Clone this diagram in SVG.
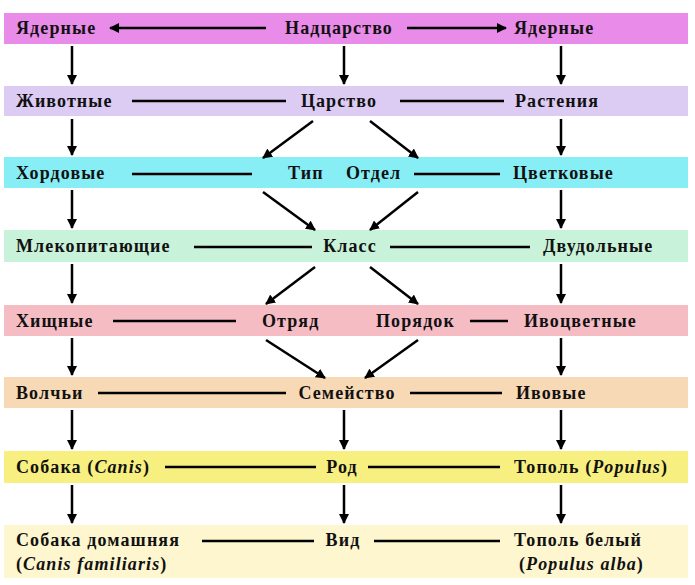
<svg xmlns="http://www.w3.org/2000/svg" width="695" height="585" viewBox="0 0 695 585">
<defs>
<marker id="a" viewBox="0 0 10 10" refX="9" refY="5" markerWidth="10" markerHeight="10" markerUnits="userSpaceOnUse" orient="auto"><path d="M0,0 L10,5 L0,10 z" fill="#000"/></marker>
<style>
text{font-family:"Liberation Serif",serif;font-weight:bold;font-size:18px;letter-spacing:1.1px;fill:#111}
.c{text-anchor:middle}
line{stroke:#000;stroke-width:2.5}
.ar{marker-end:url(#a)}
</style>
</defs>
<rect width="695" height="585" fill="#fff"/>
<g id="bands">
<rect x="4" y="13" width="684" height="31" fill="#e98be9"/>
<rect x="4" y="86" width="684" height="30" fill="#dccbf3"/>
<rect x="4" y="157" width="684" height="31" fill="#86eef4"/>
<rect x="4" y="230" width="684" height="32" fill="#c9f2da"/>
<rect x="4" y="305" width="684" height="31" fill="#f6bcc4"/>
<rect x="4" y="377" width="684" height="31" fill="#f8d9b5"/>
<rect x="4" y="451" width="684" height="32" fill="#f7f080"/>
<rect x="4" y="525" width="684" height="53" fill="#fdf6cf"/>
</g>
<g id="left">
<text x="16" y="34">Ядерные</text>
<text x="16" y="107">Животные</text>
<text x="16" y="179">Хордовые</text>
<text x="16" y="252">Млекопитающие</text>
<text x="16" y="327">Хищные</text>
<text x="16" y="399">Волчьи</text>
<text x="16" y="473">Собака (<tspan font-style="italic">Canis</tspan>)</text>
<text x="16" y="546">Собака домашняя</text>
<text x="16" y="570">(<tspan font-style="italic">Canis familiaris</tspan>)</text>
</g>
<g id="center">
<text class="c" x="339" y="34">Надцарство</text>
<text class="c" x="339" y="107">Царство</text>
<text x="288" y="179">Тип</text>
<text x="346" y="179">Отдел</text>
<text class="c" x="350" y="252">Класс</text>
<text x="262" y="327">Отряд</text>
<text x="376" y="327">Порядок</text>
<text class="c" x="347" y="399">Семейство</text>
<text class="c" x="342" y="473">Род</text>
<text class="c" x="343" y="546">Вид</text>
</g>
<g id="right">
<text x="514" y="34">Ядерные</text>
<text x="515" y="107">Растения</text>
<text x="513" y="179">Цветковые</text>
<text x="543" y="252">Двудольные</text>
<text x="524" y="327">Ивоцветные</text>
<text x="516" y="399">Ивовые</text>
<text x="514" y="473">Тополь (<tspan font-style="italic">Populus</tspan>)</text>
<text x="514" y="546">Тополь белый</text>
<text x="519" y="570">(<tspan font-style="italic">Populus alba</tspan>)</text>
</g>
<g id="connectors">
<line class="ar" x1="266" y1="28" x2="110" y2="28"/>
<line class="ar" x1="407" y1="28" x2="506" y2="28"/>
<line x1="132" y1="101" x2="286" y2="101"/>
<line x1="400" y1="101" x2="504" y2="101"/>
<line x1="132" y1="174" x2="252" y2="174"/>
<line x1="414" y1="174" x2="500" y2="174"/>
<line x1="194" y1="247" x2="312" y2="247"/>
<line x1="390" y1="247" x2="530" y2="247"/>
<line x1="113" y1="321" x2="236" y2="321"/>
<line x1="470" y1="321" x2="508" y2="321"/>
<line x1="98" y1="393" x2="286" y2="393"/>
<line x1="410" y1="393" x2="502" y2="393"/>
<line x1="165" y1="467" x2="316" y2="467"/>
<line x1="368" y1="467" x2="500" y2="467"/>
<line x1="202" y1="541" x2="314" y2="541"/>
<line x1="374" y1="541" x2="500" y2="541"/>
<g class="ar">
<line class="ar" x1="72" y1="46" x2="72" y2="84"/>
<line class="ar" x1="72" y1="119" x2="72" y2="155"/>
<line class="ar" x1="72" y1="190" x2="72" y2="228"/>
<line class="ar" x1="72" y1="264" x2="72" y2="303"/>
<line class="ar" x1="72" y1="338" x2="72" y2="375"/>
<line class="ar" x1="72" y1="410" x2="72" y2="449"/>
<line class="ar" x1="72" y1="485" x2="72" y2="523"/>
<line class="ar" x1="344" y1="46" x2="344" y2="84"/>
<line class="ar" x1="344" y1="410" x2="344" y2="449"/>
<line class="ar" x1="344" y1="485" x2="344" y2="523"/>
<line class="ar" x1="561" y1="46" x2="561" y2="84"/>
<line class="ar" x1="561" y1="119" x2="561" y2="155"/>
<line class="ar" x1="561" y1="190" x2="561" y2="228"/>
<line class="ar" x1="561" y1="264" x2="561" y2="303"/>
<line class="ar" x1="561" y1="338" x2="561" y2="375"/>
<line class="ar" x1="561" y1="410" x2="561" y2="449"/>
<line class="ar" x1="561" y1="485" x2="561" y2="523"/>
<line class="ar" x1="313" y1="121" x2="263" y2="158"/>
<line class="ar" x1="370" y1="121" x2="418" y2="158"/>
<line class="ar" x1="263" y1="192" x2="315" y2="230"/>
<line class="ar" x1="418" y1="192" x2="370" y2="230"/>
<line class="ar" x1="315" y1="267" x2="266" y2="304"/>
<line class="ar" x1="370" y1="267" x2="418" y2="304"/>
<line class="ar" x1="266" y1="340" x2="325" y2="378"/>
<line class="ar" x1="418" y1="340" x2="365" y2="378"/>
</g>
</g>
</svg>
